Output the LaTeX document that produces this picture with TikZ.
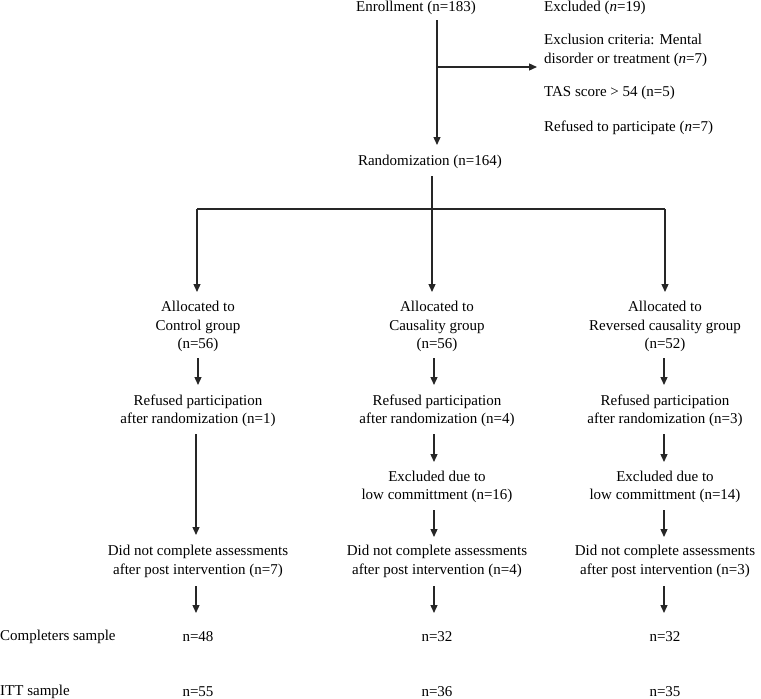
\documentclass[tikz,border=0pt]{standalone}
\usepackage{fontspec}
\setmainfont{Liberation Serif}
\usetikzlibrary{arrows.meta}
\begin{document}
\begin{tikzpicture}[x=1pt,y=-1pt,
  txt/.style={inner sep=0pt,font=\fontsize{15}{18.5}\selectfont,align=center},
  ltxt/.style={inner sep=0pt,font=\fontsize{15}{18.5}\selectfont,align=left,anchor=west},
  conn/.style={line width=1.3pt,draw=black!85},
  arr/.style={conn,-{Triangle[length=8pt,width=7pt]}}]
\useasboundingbox (0,0) rectangle (761,699);
% top
\node[txt] (enroll) at (416,8) {Enrollment (n=183)};
\node[ltxt] (excl) at (544,8) {Excluded (\textit{n}=19)};
\node[ltxt] (crit) at (544,50.5) {Exclusion criteria: Mental\\disorder or treatment (\textit{n}=7)};
\node[ltxt] (tas) at (544,93) {TAS score > 54 (n=5)};
\node[ltxt] (ref) at (544,128) {Refused to participate (\textit{n}=7)};
\node[txt] (rand) at (430,162) {Randomization (n=164)};
\coordinate (top1) at (437,20);
\coordinate (br) at (437,67);
\coordinate (brend) at (537,67);
\coordinate (top2) at (437,145);
\draw[arr] (top1) -- (top2);
\draw[arr] (br) -- (brend);
% split
\coordinate (r0) at (432,176);
\coordinate (hl) at (197,209);
\coordinate (hr) at (665,209);
\node[txt] (a1) at (198,326.5) {Allocated to\\Control group\\(n=56)};
\node[txt] (a2) at (437,326.5) {Allocated to\\Causality group\\(n=56)};
\node[txt] (a3) at (665,326.5) {Allocated to\\Reversed causality group\\(n=52)};
\coordinate (t1) at (197,292);
\coordinate (t2) at (432,292);
\coordinate (t3) at (665,292);
\draw[conn] (hl) -- (hr);
\draw[arr] (hl) -- (t1);
\draw[arr] (r0) -- (t2);
\draw[arr] (hr) -- (t3);
% refused
\node[txt] (f1) at (198,411) {Refused participation\\after randomization (n=1)};
\node[txt] (f2) at (437,411) {Refused participation\\after randomization (n=4)};
\node[txt] (f3) at (665,411) {Refused participation\\after randomization (n=3)};
\draw[arr] (198,358) -- (198,385);
\draw[arr] (434,358) -- (434,385);
\draw[arr] (664,358) -- (664,385);
% excluded
\node[txt] (e2) at (437,487) {Excluded due to\\low committment (n=16)};
\node[txt] (e3) at (665,487) {Excluded due to\\low committment (n=14)};
\draw[arr] (434,434) -- (434,462);
\draw[arr] (664,434) -- (664,462);
% did not complete
\node[txt] (d1) at (198,561.5) {Did not complete assessments\\after post intervention (n=7)};
\node[txt] (d2) at (437,561.5) {Did not complete assessments\\after post intervention (n=4)};
\node[txt] (d3) at (665,561.5) {Did not complete assessments\\after post intervention (n=3)};
\draw[arr] (196,434) -- (196,535);
\draw[arr] (434,510) -- (434,537);
\draw[arr] (664,510) -- (664,537);
% samples
\node[txt,anchor=west] (cs) at (0,637) {Completers sample};
\node[txt] (c1) at (198,637) {n=48};
\node[txt] (c2) at (437,637) {n=32};
\node[txt] (c3) at (665,637) {n=32};
\node[txt,anchor=west] (itt) at (0,692) {ITT sample};
\node[txt] (i1) at (198,692) {n=55};
\node[txt] (i2) at (437,692) {n=36};
\node[txt] (i3) at (665,692) {n=35};
\draw[arr] (196,586) -- (196,613);
\draw[arr] (434,586) -- (434,613);
\draw[arr] (664,586) -- (664,613);
\end{tikzpicture}
\end{document}
